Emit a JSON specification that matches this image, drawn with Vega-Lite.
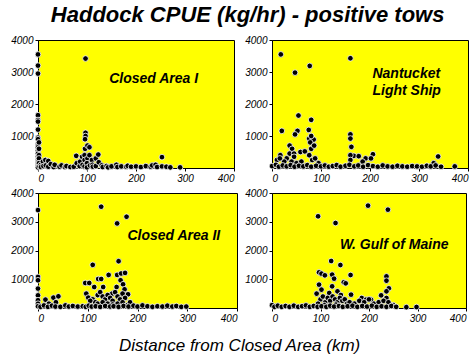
{
  "$schema": "https://vega.github.io/schema/vega-lite/v6.json",
  "padding": {"left": 10, "top": 3, "right": 5, "bottom": 2},
  "background": "white",
  "title": {"text": "Haddock CPUE (kg/hr) - positive tows", "font": "Liberation Sans", "fontSize": 22, "fontStyle": "italic", "fontWeight": "bold", "color": "black", "anchor": "middle", "offset": 8, "dx": 8},
  "datasets": {
    "pts": [
      {"area":"CA1","dist":0,"cpue":3550},{"area":"CA1","dist":0,"cpue":3200},{"area":"CA1","dist":0,"cpue":2950},{"area":"CA1","dist":0,"cpue":1650},{"area":"CA1","dist":0,"cpue":1500},{"area":"CA1","dist":0,"cpue":1450},{"area":"CA1","dist":0,"cpue":1200},{"area":"CA1","dist":0,"cpue":950},{"area":"CA1","dist":0,"cpue":900},{"area":"CA1","dist":0,"cpue":750},{"area":"CA1","dist":0,"cpue":650},{"area":"CA1","dist":0,"cpue":550},{"area":"CA1","dist":0,"cpue":450},{"area":"CA1","dist":0,"cpue":350},{"area":"CA1","dist":0,"cpue":250},{"area":"CA1","dist":0,"cpue":180},{"area":"CA1","dist":0,"cpue":120},{"area":"CA1","dist":0,"cpue":60},{"area":"CA1","dist":0,"cpue":20},
      {"area":"CA1","dist":2,"cpue":800},{"area":"CA1","dist":2,"cpue":600},{"area":"CA1","dist":2,"cpue":400},{"area":"CA1","dist":2,"cpue":300},{"area":"CA1","dist":2,"cpue":150},{"area":"CA1","dist":3,"cpue":50},
      {"area":"CA1","dist":6,"cpue":100},{"area":"CA1","dist":6,"cpue":30},{"area":"CA1","dist":10,"cpue":200},{"area":"CA1","dist":11,"cpue":60},{"area":"CA1","dist":15,"cpue":250},{"area":"CA1","dist":16,"cpue":80},{"area":"CA1","dist":21,"cpue":220},{"area":"CA1","dist":21,"cpue":40},{"area":"CA1","dist":26,"cpue":120},{"area":"CA1","dist":32,"cpue":30},{"area":"CA1","dist":34,"cpue":100},{"area":"CA1","dist":44,"cpue":40},{"area":"CA1","dist":48,"cpue":80},{"area":"CA1","dist":55,"cpue":30},{"area":"CA1","dist":58,"cpue":60},{"area":"CA1","dist":66,"cpue":30},{"area":"CA1","dist":73,"cpue":40},
      {"area":"CA1","dist":78,"cpue":380},{"area":"CA1","dist":79,"cpue":150},{"area":"CA1","dist":85,"cpue":60},{"area":"CA1","dist":86,"cpue":200},{"area":"CA1","dist":90,"cpue":350},{"area":"CA1","dist":91,"cpue":100},
      {"area":"CA1","dist":97,"cpue":3420},{"area":"CA1","dist":97,"cpue":1100},{"area":"CA1","dist":97,"cpue":1000},{"area":"CA1","dist":96,"cpue":900},{"area":"CA1","dist":96,"cpue":600},{"area":"CA1","dist":95,"cpue":400},{"area":"CA1","dist":95,"cpue":250},{"area":"CA1","dist":95,"cpue":50},
      {"area":"CA1","dist":101,"cpue":700},{"area":"CA1","dist":101,"cpue":300},{"area":"CA1","dist":100,"cpue":150},{"area":"CA1","dist":100,"cpue":20},{"area":"CA1","dist":105,"cpue":650},{"area":"CA1","dist":105,"cpue":400},{"area":"CA1","dist":106,"cpue":80},{"area":"CA1","dist":110,"cpue":250},{"area":"CA1","dist":111,"cpue":100},{"area":"CA1","dist":112,"cpue":40},{"area":"CA1","dist":118,"cpue":300},{"area":"CA1","dist":118,"cpue":60},{"area":"CA1","dist":123,"cpue":420},{"area":"CA1","dist":124,"cpue":180},
      {"area":"CA1","dist":130,"cpue":80},{"area":"CA1","dist":132,"cpue":30},{"area":"CA1","dist":140,"cpue":60},{"area":"CA1","dist":143,"cpue":20},{"area":"CA1","dist":150,"cpue":50},{"area":"CA1","dist":160,"cpue":100},{"area":"CA1","dist":162,"cpue":30},{"area":"CA1","dist":170,"cpue":50},{"area":"CA1","dist":180,"cpue":40},{"area":"CA1","dist":183,"cpue":70},{"area":"CA1","dist":190,"cpue":40},{"area":"CA1","dist":200,"cpue":50},{"area":"CA1","dist":210,"cpue":30},{"area":"CA1","dist":220,"cpue":60},{"area":"CA1","dist":230,"cpue":40},{"area":"CA1","dist":233,"cpue":80},{"area":"CA1","dist":240,"cpue":100},{"area":"CA1","dist":243,"cpue":30},{"area":"CA1","dist":253,"cpue":340},{"area":"CA1","dist":253,"cpue":50},{"area":"CA1","dist":262,"cpue":40},{"area":"CA1","dist":270,"cpue":20},{"area":"CA1","dist":290,"cpue":20},

      {"area":"NLS","dist":18,"cpue":3550},{"area":"NLS","dist":47,"cpue":2980},{"area":"NLS","dist":77,"cpue":3190},{"area":"NLS","dist":160,"cpue":3430},{"area":"NLS","dist":54,"cpue":1640},{"area":"NLS","dist":80,"cpue":1505},{"area":"NLS","dist":20,"cpue":1160},{"area":"NLS","dist":52,"cpue":1160},{"area":"NLS","dist":47,"cpue":1050},{"area":"NLS","dist":75,"cpue":1190},{"area":"NLS","dist":76,"cpue":920},{"area":"NLS","dist":85,"cpue":890},{"area":"NLS","dist":78,"cpue":800},{"area":"NLS","dist":80,"cpue":1000},
      {"area":"NLS","dist":160,"cpue":1050},{"area":"NLS","dist":160,"cpue":920},{"area":"NLS","dist":162,"cpue":660},{"area":"NLS","dist":36,"cpue":700},{"area":"NLS","dist":41,"cpue":600},{"area":"NLS","dist":36,"cpue":450},{"area":"NLS","dist":58,"cpue":500},{"area":"NLS","dist":67,"cpue":520},{"area":"NLS","dist":45,"cpue":450},{"area":"NLS","dist":45,"cpue":350},{"area":"NLS","dist":30,"cpue":300},{"area":"NLS","dist":25,"cpue":200},{"area":"NLS","dist":10,"cpue":250},
      {"area":"NLS","dist":167,"cpue":380},{"area":"NLS","dist":177,"cpue":370},{"area":"NLS","dist":206,"cpue":430},{"area":"NLS","dist":191,"cpue":300},{"area":"NLS","dist":202,"cpue":300},{"area":"NLS","dist":339,"cpue":360},{"area":"NLS","dist":373,"cpue":50},{"area":"NLS","dist":17,"cpue":400},{"area":"NLS","dist":16,"cpue":300},{"area":"NLS","dist":80,"cpue":600},{"area":"NLS","dist":86,"cpue":700},{"area":"NLS","dist":76,"cpue":400},{"area":"NLS","dist":160,"cpue":400},{"area":"NLS","dist":160,"cpue":250},{"area":"NLS","dist":82,"cpue":250},{"area":"NLS","dist":88,"cpue":300},{"area":"NLS","dist":40,"cpue":200},{"area":"NLS","dist":50,"cpue":150},{"area":"NLS","dist":60,"cpue":200},{"area":"NLS","dist":95,"cpue":150},{"area":"NLS","dist":185,"cpue":200},{"area":"NLS","dist":330,"cpue":150},
      {"area":"NLS","dist":0,"cpue":60},{"area":"NLS","dist":8,"cpue":100},{"area":"NLS","dist":14,"cpue":40},{"area":"NLS","dist":22,"cpue":80},{"area":"NLS","dist":30,"cpue":50},{"area":"NLS","dist":38,"cpue":90},{"area":"NLS","dist":46,"cpue":40},{"area":"NLS","dist":55,"cpue":70},{"area":"NLS","dist":64,"cpue":50},{"area":"NLS","dist":72,"cpue":90},{"area":"NLS","dist":80,"cpue":40},{"area":"NLS","dist":90,"cpue":70},{"area":"NLS","dist":100,"cpue":50},{"area":"NLS","dist":108,"cpue":80},{"area":"NLS","dist":116,"cpue":40},{"area":"NLS","dist":124,"cpue":60},{"area":"NLS","dist":132,"cpue":90},{"area":"NLS","dist":140,"cpue":40},{"area":"NLS","dist":150,"cpue":70},{"area":"NLS","dist":158,"cpue":100},{"area":"NLS","dist":168,"cpue":50},{"area":"NLS","dist":176,"cpue":80},{"area":"NLS","dist":186,"cpue":40},{"area":"NLS","dist":196,"cpue":90},{"area":"NLS","dist":206,"cpue":60},{"area":"NLS","dist":216,"cpue":40},{"area":"NLS","dist":226,"cpue":80},{"area":"NLS","dist":236,"cpue":50},{"area":"NLS","dist":246,"cpue":40},{"area":"NLS","dist":256,"cpue":70},{"area":"NLS","dist":266,"cpue":50},{"area":"NLS","dist":276,"cpue":40},{"area":"NLS","dist":286,"cpue":60},{"area":"NLS","dist":296,"cpue":50},{"area":"NLS","dist":306,"cpue":40},{"area":"NLS","dist":316,"cpue":70},{"area":"NLS","dist":324,"cpue":50},{"area":"NLS","dist":334,"cpue":80},{"area":"NLS","dist":345,"cpue":40},

      {"area":"CA2","dist":0,"cpue":3407},{"area":"CA2","dist":127,"cpue":3523},{"area":"CA2","dist":159,"cpue":2942},{"area":"CA2","dist":178,"cpue":3174},{"area":"CA2","dist":162,"cpue":1628},{"area":"CA2","dist":110,"cpue":1500},{"area":"CA2","dist":0,"cpue":1080},{"area":"CA2","dist":0,"cpue":965},{"area":"CA2","dist":0,"cpue":675},{"area":"CA2","dist":0,"cpue":440},{"area":"CA2","dist":0,"cpue":270},{"area":"CA2","dist":0,"cpue":150},{"area":"CA2","dist":0,"cpue":60},
      {"area":"CA2","dist":15,"cpue":290},{"area":"CA2","dist":31,"cpue":360},{"area":"CA2","dist":41,"cpue":407},{"area":"CA2","dist":95,"cpue":870},{"area":"CA2","dist":103,"cpue":870},{"area":"CA2","dist":97,"cpue":500},{"area":"CA2","dist":101,"cpue":360},{"area":"CA2","dist":121,"cpue":1010},{"area":"CA2","dist":127,"cpue":1010},{"area":"CA2","dist":113,"cpue":730},{"area":"CA2","dist":131,"cpue":730},{"area":"CA2","dist":142,"cpue":1150},{"area":"CA2","dist":159,"cpue":1150},{"area":"CA2","dist":167,"cpue":1200},{"area":"CA2","dist":175,"cpue":1220},{"area":"CA2","dist":166,"cpue":965},{"area":"CA2","dist":158,"cpue":730},{"area":"CA2","dist":171,"cpue":825},{"area":"CA2","dist":149,"cpue":500},{"area":"CA2","dist":181,"cpue":477},{"area":"CA2","dist":174,"cpue":650},
      {"area":"CA2","dist":120,"cpue":450},{"area":"CA2","dist":125,"cpue":550},{"area":"CA2","dist":130,"cpue":400},{"area":"CA2","dist":135,"cpue":300},{"area":"CA2","dist":140,"cpue":450},{"area":"CA2","dist":145,"cpue":350},{"area":"CA2","dist":150,"cpue":250},{"area":"CA2","dist":155,"cpue":550},{"area":"CA2","dist":160,"cpue":400},{"area":"CA2","dist":165,"cpue":300},{"area":"CA2","dist":170,"cpue":500},{"area":"CA2","dist":175,"cpue":350},{"area":"CA2","dist":110,"cpue":300},{"area":"CA2","dist":115,"cpue":200},{"area":"CA2","dist":105,"cpue":250},{"area":"CA2","dist":120,"cpue":150},{"area":"CA2","dist":130,"cpue":200},{"area":"CA2","dist":140,"cpue":150},{"area":"CA2","dist":150,"cpue":120},{"area":"CA2","dist":160,"cpue":150},{"area":"CA2","dist":170,"cpue":200},{"area":"CA2","dist":180,"cpue":100},{"area":"CA2","dist":185,"cpue":200},{"area":"CA2","dist":22,"cpue":150},{"area":"CA2","dist":36,"cpue":200},
      {"area":"CA2","dist":5,"cpue":40},{"area":"CA2","dist":12,"cpue":90},{"area":"CA2","dist":20,"cpue":40},{"area":"CA2","dist":28,"cpue":80},{"area":"CA2","dist":35,"cpue":50},{"area":"CA2","dist":45,"cpue":40},{"area":"CA2","dist":55,"cpue":90},{"area":"CA2","dist":62,"cpue":50},{"area":"CA2","dist":70,"cpue":70},{"area":"CA2","dist":80,"cpue":50},{"area":"CA2","dist":90,"cpue":60},{"area":"CA2","dist":96,"cpue":40},{"area":"CA2","dist":102,"cpue":80},{"area":"CA2","dist":108,"cpue":50},{"area":"CA2","dist":116,"cpue":60},{"area":"CA2","dist":125,"cpue":40},{"area":"CA2","dist":135,"cpue":70},{"area":"CA2","dist":145,"cpue":50},{"area":"CA2","dist":152,"cpue":60},{"area":"CA2","dist":162,"cpue":40},{"area":"CA2","dist":172,"cpue":70},{"area":"CA2","dist":182,"cpue":50},{"area":"CA2","dist":192,"cpue":80},{"area":"CA2","dist":200,"cpue":50},{"area":"CA2","dist":210,"cpue":90},{"area":"CA2","dist":220,"cpue":60},{"area":"CA2","dist":230,"cpue":40},{"area":"CA2","dist":240,"cpue":60},{"area":"CA2","dist":250,"cpue":50},{"area":"CA2","dist":260,"cpue":80},{"area":"CA2","dist":270,"cpue":50},{"area":"CA2","dist":278,"cpue":70},{"area":"CA2","dist":288,"cpue":40},{"area":"CA2","dist":298,"cpue":50},

      {"area":"GOM","dist":198,"cpue":3560},{"area":"GOM","dist":239,"cpue":3420},{"area":"GOM","dist":95,"cpue":3190},{"area":"GOM","dist":131,"cpue":2956},{"area":"GOM","dist":122,"cpue":1635},{"area":"GOM","dist":141,"cpue":1495},{"area":"GOM","dist":97,"cpue":1240},{"area":"GOM","dist":102,"cpue":1195},{"area":"GOM","dist":109,"cpue":1136},{"area":"GOM","dist":124,"cpue":1160},{"area":"GOM","dist":128,"cpue":1020},{"area":"GOM","dist":162,"cpue":1148},{"area":"GOM","dist":148,"cpue":893},{"area":"GOM","dist":152,"cpue":858},{"area":"GOM","dist":236,"cpue":1100},{"area":"GOM","dist":236,"cpue":950},{"area":"GOM","dist":241,"cpue":684},{"area":"GOM","dist":236,"cpue":580},{"area":"GOM","dist":97,"cpue":812},{"area":"GOM","dist":92,"cpue":499},{"area":"GOM","dist":102,"cpue":638},{"area":"GOM","dist":163,"cpue":464},{"area":"GOM","dist":185,"cpue":348},{"area":"GOM","dist":194,"cpue":290},{"area":"GOM","dist":204,"cpue":290},{"area":"GOM","dist":225,"cpue":440},{"area":"GOM","dist":236,"cpue":348},{"area":"GOM","dist":124,"cpue":754},{"area":"GOM","dist":118,"cpue":522},{"area":"GOM","dist":135,"cpue":580},{"area":"GOM","dist":142,"cpue":452},{"area":"GOM","dist":277,"cpue":30},{"area":"GOM","dist":298,"cpue":35},
      {"area":"GOM","dist":100,"cpue":300},{"area":"GOM","dist":105,"cpue":400},{"area":"GOM","dist":110,"cpue":200},{"area":"GOM","dist":115,"cpue":350},{"area":"GOM","dist":120,"cpue":250},{"area":"GOM","dist":125,"cpue":400},{"area":"GOM","dist":130,"cpue":300},{"area":"GOM","dist":135,"cpue":200},{"area":"GOM","dist":140,"cpue":350},{"area":"GOM","dist":145,"cpue":250},{"area":"GOM","dist":150,"cpue":300},{"area":"GOM","dist":155,"cpue":150},{"area":"GOM","dist":160,"cpue":200},{"area":"GOM","dist":170,"cpue":150},{"area":"GOM","dist":180,"cpue":250},{"area":"GOM","dist":190,"cpue":200},{"area":"GOM","dist":200,"cpue":300},{"area":"GOM","dist":210,"cpue":150},{"area":"GOM","dist":220,"cpue":200},{"area":"GOM","dist":230,"cpue":250},{"area":"GOM","dist":240,"cpue":200},{"area":"GOM","dist":250,"cpue":100},{"area":"GOM","dist":95,"cpue":150},{"area":"GOM","dist":108,"cpue":100},{"area":"GOM","dist":132,"cpue":120},
      {"area":"GOM","dist":0,"cpue":100},{"area":"GOM","dist":5,"cpue":40},{"area":"GOM","dist":12,"cpue":80},{"area":"GOM","dist":20,"cpue":40},{"area":"GOM","dist":28,"cpue":70},{"area":"GOM","dist":36,"cpue":40},{"area":"GOM","dist":45,"cpue":80},{"area":"GOM","dist":54,"cpue":40},{"area":"GOM","dist":62,"cpue":60},{"area":"GOM","dist":70,"cpue":90},{"area":"GOM","dist":78,"cpue":40},{"area":"GOM","dist":86,"cpue":70},{"area":"GOM","dist":94,"cpue":40},{"area":"GOM","dist":102,"cpue":60},{"area":"GOM","dist":112,"cpue":40},{"area":"GOM","dist":120,"cpue":80},{"area":"GOM","dist":128,"cpue":50},{"area":"GOM","dist":138,"cpue":70},{"area":"GOM","dist":146,"cpue":40},{"area":"GOM","dist":156,"cpue":60},{"area":"GOM","dist":166,"cpue":80},{"area":"GOM","dist":176,"cpue":40},{"area":"GOM","dist":186,"cpue":70},{"area":"GOM","dist":196,"cpue":50},{"area":"GOM","dist":206,"cpue":80},{"area":"GOM","dist":216,"cpue":40},{"area":"GOM","dist":226,"cpue":60},{"area":"GOM","dist":236,"cpue":40},{"area":"GOM","dist":246,"cpue":70},{"area":"GOM","dist":256,"cpue":40}
    ],
    "labels": [
      {"area":"CA1","label":"Closed Area I"},
      {"area":"NLS","label":"Nantucket\nLight Ship"},
      {"area":"CA2","label":"Closed Area II"},
      {"area":"GOM","label":"W. Gulf of Maine"}
    ]
  },
  "config": {
    "view": {"fill": "#FFFF00", "stroke": "black", "strokeWidth": 1},
    "axis": {"grid": false, "domainColor": "black", "tickColor": "black", "labelColor": "black", "labelFont": "Liberation Sans", "labelFontStyle": "italic", "labelFontSize": 10, "tickSize": 3, "labelPadding": 2, "title": null, "labelOverlap": false, "format": "d", "tickCount": 10},
    "point": {"filled": true, "shape": "circle", "color": "black", "stroke": "white", "strokeWidth": 0.8, "strokeOpacity": 1, "opacity": 1, "size": 32},
    "text": {"font": "Liberation Sans", "fontSize": 14, "fontStyle": "italic", "fontWeight": "bold", "color": "black", "lineBreak": "\n", "lineHeight": 17}
  },
  "vconcat": [
    {
      "title": {"text": "Distance from Closed Area (km)", "orient": "bottom", "font": "Liberation Sans", "fontSize": 17, "fontStyle": "italic", "fontWeight": "normal", "color": "black", "anchor": "middle", "offset": 14},
      "columns": 2,
      "spacing": {"row": 25, "column": 35},
      "bounds": "flush",
      "concat": [
        {
          "width": 196, "height": 128,
          "layer": [
            {"data": {"name": "pts"}, "transform": [{"filter": "datum.area === 'CA1'"}], "mark": {"type": "point"},
             "encoding": {
               "x": {"field": "dist", "type": "quantitative", "scale": {"domain": [0, 400], "nice": false}, "axis": {"values": [0, 100, 200, 300, 400], "tickCount": 10}},
               "y": {"field": "cpue", "type": "quantitative", "scale": {"domain": [0, 4000], "nice": false}, "axis": {"values": [1000, 2000, 3000, 4000], "tickCount": 10}}
             }},
            {"data": {"name": "labels"}, "transform": [{"filter": "datum.area === 'CA1'"}], "mark": {"type": "text", "align": "center", "baseline": "middle"},
             "encoding": {"x": {"datum": 236}, "y": {"datum": 2780}, "text": {"field": "label"}}}
          ]
        },
        {
          "width": 196, "height": 128,
          "layer": [
            {"data": {"name": "pts"}, "transform": [{"filter": "datum.area === 'NLS'"}], "mark": {"type": "point"},
             "encoding": {
               "x": {"field": "dist", "type": "quantitative", "scale": {"domain": [0, 400], "nice": false}, "axis": {"values": [0, 100, 200, 300, 400], "tickCount": 10}},
               "y": {"field": "cpue", "type": "quantitative", "scale": {"domain": [0, 4000], "nice": false}, "axis": {"values": [1000, 2000, 3000, 4000], "tickCount": 10}}
             }},
            {"data": {"name": "labels"}, "transform": [{"filter": "datum.area === 'NLS'"}], "mark": {"type": "text", "align": "left", "baseline": "middle"},
             "encoding": {"x": {"datum": 205}, "y": {"datum": 2950}, "text": {"field": "label"}}}
          ]
        },
        {
          "width": 199, "height": 115,
          "layer": [
            {"data": {"name": "pts"}, "transform": [{"filter": "datum.area === 'CA2'"}], "mark": {"type": "point"},
             "encoding": {
               "x": {"field": "dist", "type": "quantitative", "scale": {"domain": [0, 400], "nice": false}, "axis": {"values": [0, 100, 200, 300, 400], "tickCount": 10}},
               "y": {"field": "cpue", "type": "quantitative", "scale": {"domain": [0, 4000], "nice": false}, "axis": {"values": [1000, 2000, 3000, 4000], "tickCount": 10}}
             }},
            {"data": {"name": "labels"}, "transform": [{"filter": "datum.area === 'CA2'"}], "mark": {"type": "text", "align": "center", "baseline": "middle"},
             "encoding": {"x": {"datum": 273}, "y": {"datum": 2487}, "text": {"field": "label"}}}
          ]
        },
        {
          "width": 194, "height": 115,
          "layer": [
            {"data": {"name": "pts"}, "transform": [{"filter": "datum.area === 'GOM'"}], "mark": {"type": "point"},
             "encoding": {
               "x": {"field": "dist", "type": "quantitative", "scale": {"domain": [0, 400], "nice": false}, "axis": {"values": [0, 100, 200, 300, 400], "tickCount": 10}},
               "y": {"field": "cpue", "type": "quantitative", "scale": {"domain": [0, 4000], "nice": false}, "axis": {"values": [1000, 2000, 3000, 4000], "tickCount": 10}}
             }},
            {"data": {"name": "labels"}, "transform": [{"filter": "datum.area === 'GOM'"}], "mark": {"type": "text", "align": "center", "baseline": "middle"},
             "encoding": {"x": {"datum": 252}, "y": {"datum": 2203}, "text": {"field": "label"}}}
          ]
        }
      ]
    }
  ]
}
